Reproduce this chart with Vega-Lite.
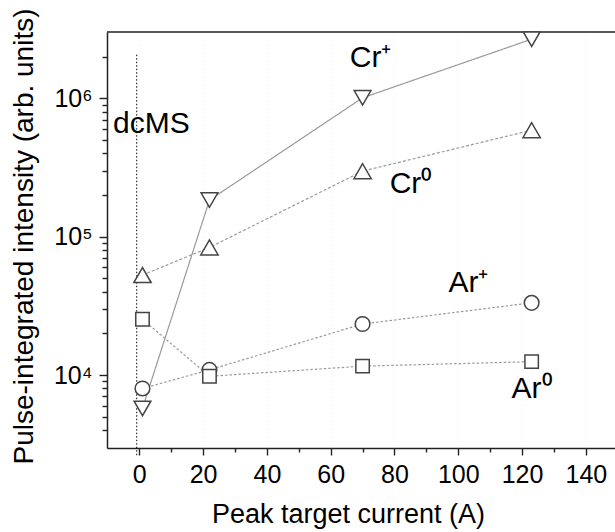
{
  "$schema": "https://vega.github.io/schema/vega-lite/v6.json",
  "width": 508,
  "height": 416,
  "autosize": {"type": "none"},
  "padding": {"left": 107, "top": 32, "right": 0, "bottom": 84},
  "background": "white",
  "config": {
    "view": {"stroke": null},
    "font": "Liberation Sans"
  },
  "datasets": {
    "points": [
      {"series": "Cr+", "current": 1, "intensity": 5740},
      {"series": "Cr+", "current": 22, "intensity": 184000},
      {"series": "Cr+", "current": 70, "intensity": 1010000},
      {"series": "Cr+", "current": 123, "intensity": 2680000},
      {"series": "Cr0", "current": 1, "intensity": 52800},
      {"series": "Cr0", "current": 22, "intensity": 83600},
      {"series": "Cr0", "current": 70, "intensity": 298000},
      {"series": "Cr0", "current": 123, "intensity": 589000},
      {"series": "Ar+", "current": 1, "intensity": 8000},
      {"series": "Ar+", "current": 22, "intensity": 10900},
      {"series": "Ar+", "current": 70, "intensity": 23400},
      {"series": "Ar+", "current": 123, "intensity": 33300},
      {"series": "Ar0", "current": 1, "intensity": 25300},
      {"series": "Ar0", "current": 22, "intensity": 9800},
      {"series": "Ar0", "current": 70, "intensity": 11600},
      {"series": "Ar0", "current": 123, "intensity": 12500}
    ],
    "labels": [
      {"label": "dcMS", "current": -8.2, "intensity": 560000},
      {"label": "Cr⁺", "current": 66, "intensity": 1690000},
      {"label": "Cr⁰", "current": 78.5, "intensity": 206000},
      {"label": "Ar⁺", "current": 96.9, "intensity": 40000},
      {"label": "Ar⁰", "current": 116.7, "intensity": 6800}
    ],
    "marker": [
      {"current": -0.8, "intensity": 2070000, "intensity2": 2560}
    ],
    "frame": [
      {"current": -10.12, "current2": 149.13, "intensity": 3020000}
    ]
  },
  "encoding": {
    "x": {
      "field": "current",
      "type": "quantitative",
      "scale": {"domain": [-10.12, 149.13], "nice": false, "zero": false},
      "axis": {
        "title": "Peak target current (A)",
        "values": [0, 10, 20, 30, 40, 50, 60, 70, 80, 90, 100, 110, 120, 130, 140],
        "labelExpr": "datum.value % 20 == 0 ? datum.label : ''",
        "ticks": true,
        "tickSize": {"condition": {"test": "datum.value % 20 == 0", "value": 7}, "value": 4},
        "labelPadding": 7,
        "labelFontSize": 25,
        "labelFont": "Liberation Sans",
        "labelColor": "black",
        "labelFlush": false,
        "labelOverlap": false,
        "titleFontSize": 27,
        "titleFont": "Liberation Sans",
        "titleFontWeight": "normal",
        "titleColor": "black",
        "titleX": 241,
        "titleY": 74,
        "titleAlign": "center",
        "titleBaseline": "alphabetic",
        "domainColor": "#222",
        "domainWidth": 1.5,
        "tickColor": "#222",
        "tickWidth": 1.4,
        "grid": true,
        "gridColor": "#f0f0f0",
        "gridDash": [1, 3],
        "gridOpacity": {"condition": {"test": "datum.value % 20 == 0", "value": 1}, "value": 0}
      }
    },
    "y": {
      "field": "intensity",
      "type": "quantitative",
      "scale": {"type": "log", "domain": [2970, 3020000], "nice": false},
      "axis": {
        "title": "Pulse-integrated intensity (arb. units)",
        "values": [4000, 5000, 6000, 7000, 8000, 9000, 10000, 20000, 30000, 40000, 50000, 60000, 70000, 80000, 90000, 100000, 200000, 300000, 400000, 500000, 600000, 700000, 800000, 900000, 1000000, 2000000],
        "labelExpr": "datum.value == 10000 ? '10⁴' : datum.value == 100000 ? '10⁵' : datum.value == 1000000 ? '10⁶' : ''",
        "ticks": true,
        "tickSize": {"condition": {"test": "datum.value == 10000 || datum.value == 100000 || datum.value == 1000000", "value": 8}, "value": 5},
        "labelPadding": 7,
        "labelFontSize": 25,
        "labelFont": "Liberation Sans",
        "labelColor": "black",
        "labelFlush": false,
        "labelOverlap": false,
        "titleFontSize": 28,
        "titleFont": "Liberation Sans",
        "titleFontWeight": "normal",
        "titleColor": "black",
        "titleX": -69,
        "titleY": 204,
        "titleAlign": "center",
        "titleBaseline": "bottom",
        "titleAngle": -90,
        "domainColor": "#222",
        "domainWidth": 1.5,
        "tickColor": "#222",
        "tickWidth": 1.4,
        "grid": false
      }
    }
  },
  "layer": [
    {
      "data": {"name": "frame"},
      "mark": {"type": "rule", "color": "#222", "strokeWidth": 1.5},
      "encoding": {"x2": {"field": "current2"}}
    },
    {
      "data": {"name": "marker"},
      "mark": {"type": "rule", "color": "black", "strokeWidth": 1, "strokeDash": [1.5, 2]},
      "encoding": {"y2": {"field": "intensity2"}}
    },
    {
      "data": {"name": "points"},
      "mark": {"type": "line", "color": "#9a9a9a", "strokeWidth": 1.2},
      "encoding": {
        "detail": {"field": "series", "type": "nominal"},
        "strokeDash": {
          "field": "series",
          "type": "nominal",
          "scale": {"domain": ["Cr+", "Cr0", "Ar+", "Ar0"], "range": [[1, 0], [3, 2], [2.5, 2], [2.5, 2]]},
          "legend": null
        }
      }
    },
    {
      "data": {"name": "points"},
      "mark": {"type": "point", "filled": true, "fill": "white", "stroke": "#444", "strokeWidth": 1.5, "opacity": 1},
      "encoding": {
        "shape": {
          "field": "series",
          "type": "nominal",
          "scale": {"domain": ["Cr+", "Cr0", "Ar+", "Ar0"], "range": ["triangle-down", "triangle-up", "circle", "square"]},
          "legend": null
        },
        "size": {
          "field": "series",
          "type": "nominal",
          "scale": {"type": "ordinal", "domain": ["Cr+", "Cr0", "Ar+", "Ar0"], "range": [280, 300, 215, 180]},
          "legend": null
        }
      }
    },
    {
      "data": {"name": "labels"},
      "mark": {"type": "text", "align": "left", "baseline": "alphabetic", "fontSize": 30, "font": "Liberation Sans", "color": "black"},
      "encoding": {"text": {"field": "label", "type": "nominal"}}
    }
  ]
}
